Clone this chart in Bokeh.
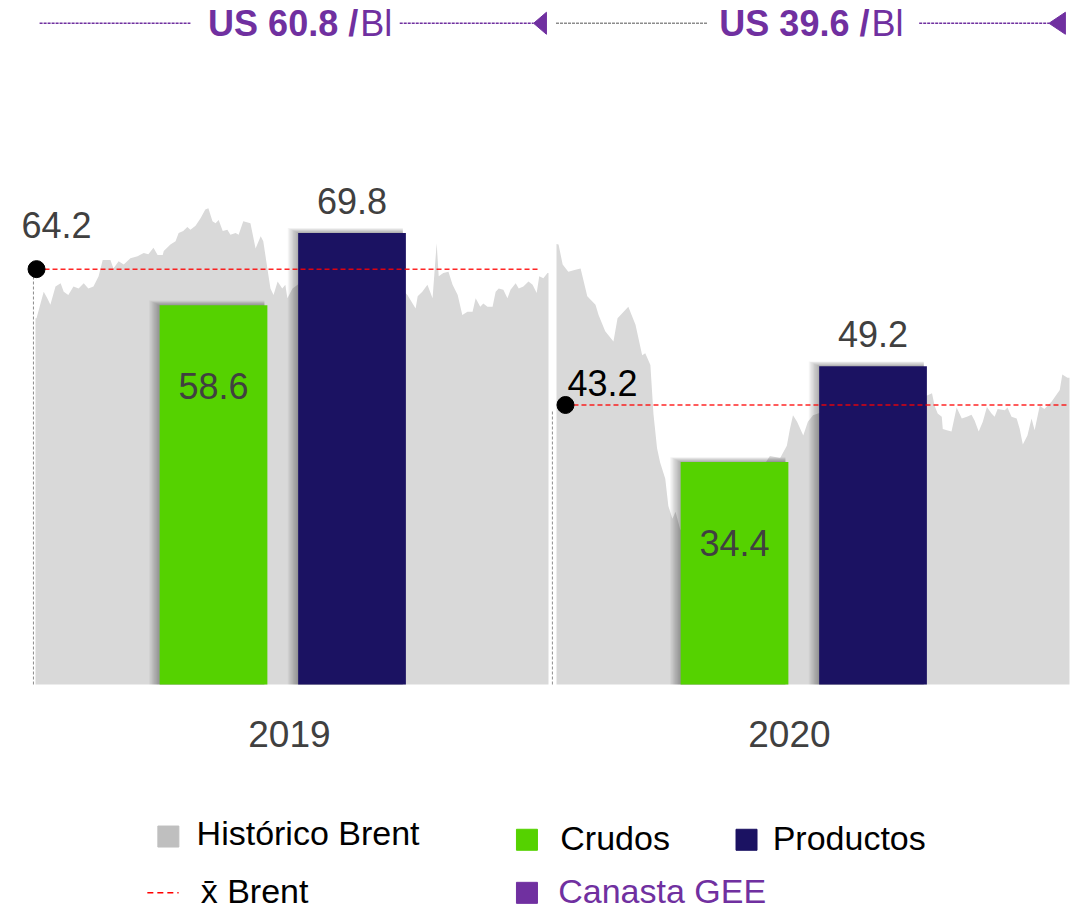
import numpy as np
from bokeh.plotting import figure
from bokeh.models import Range1d, ColumnDataSource
from bokeh.core.properties import value
from bokeh.embed import file_html
from bokeh.resources import INLINE

# ---------------- data ----------------
years = ["2019", "2020"]
crudos = [58.6, 34.4]
productos = [69.8, 49.2]
brent_mean = [64.2, 43.2]
canasta_gee = [60.8, 39.6]

# Historical Brent (USD/bbl); position = % of the year elapsed
brent_2019_pct = [0.0, 0.2, 1.6, 2.3, 2.9, 3.9, 4.9, 5.5, 6.4, 7.4, 8.4, 9.4, 10.3, 11.3, 12.3,
                  13.1, 14.6, 15.2, 16.2, 17.2, 18.5, 19.9, 21.1, 22.0, 23.0, 23.8, 24.8, 25.0,
                  26.3, 27.3, 27.9, 28.8, 29.6, 30.2, 31.2, 32.2, 33.1, 33.7, 34.5, 35.1, 35.7,
                  36.5, 37.4, 38.0, 39.0, 39.6, 40.5, 41.9, 42.9, 43.9, 44.4, 45.2, 45.8, 46.4,
                  47.2, 48.1, 48.7, 49.1, 50.1, 51.1, 52.2, 53.6, 55.2, 56.5, 58.1, 59.5, 61.0,
                  62.4, 63.7, 65.3, 66.9, 68.4, 70.2, 71.5, 72.5, 74.1, 74.5, 75.4, 76.4, 77.4,
                  78.2, 78.6, 79.5, 80.5, 81.3, 82.3, 83.2, 84.2, 85.2, 85.8, 86.7, 87.3, 88.1,
                  89.1, 89.7, 90.3, 91.2, 92.0, 92.6, 93.6, 94.2, 95.1, 96.1, 96.9, 97.7, 98.2,
                  99.0, 99.8, 100.0]
brent_2019_usd = [56.6, 56.6, 60.7, 59.7, 58.7, 61.5, 62.0, 60.7, 60.2, 61.5, 61.2, 62.0, 61.2,
                  61.5, 63.1, 65.6, 65.6, 64.3, 65.4, 64.9, 65.9, 66.2, 66.7, 66.5, 67.5, 66.4,
                  66.4, 67.0, 68.0, 68.5, 69.8, 70.1, 70.7, 70.3, 70.9, 72.1, 73.4, 73.6, 71.6,
                  71.3, 71.8, 70.1, 70.3, 69.5, 69.8, 69.5, 71.6, 71.3, 67.4, 69.3, 68.5, 64.3,
                  61.2, 60.2, 62.3, 61.2, 61.8, 59.7, 61.2, 61.8, 63.0, 64.0, 63.2, 64.5, 63.5,
                  62.5, 61.0, 58.5, 59.5, 58.8, 59.8, 59.0, 60.5, 61.0, 60.2, 58.1, 60.0, 60.7,
                  61.8, 59.7, 68.2, 63.1, 63.6, 63.8, 61.8, 60.2, 57.1, 57.6, 57.6, 59.7, 58.4,
                  58.9, 58.4, 58.4, 60.7, 61.2, 61.0, 59.7, 61.0, 62.0, 61.2, 61.5, 62.3, 61.8,
                  60.5, 63.1, 62.8, 63.6, 63.6]
brent_2020_pct = [0.0, 0.4, 1.2, 2.3, 3.7, 4.7, 6.0, 7.6, 8.2, 9.5, 11.1, 11.9, 14.0, 15.4, 16.7,
                  17.3, 18.3, 18.9, 19.6, 20.2, 21.2, 21.8, 22.6, 23.2, 24.1, 26.1, 28.0, 30.0,
                  31.9, 33.9, 35.8, 37.7, 39.7, 41.6, 43.6, 44.9, 45.5, 46.1, 46.9, 48.1, 49.0,
                  50.0, 51.4, 53.3, 55.3, 57.2, 59.1, 61.1, 63.0, 65.0, 66.9, 68.9, 70.8, 71.8,
                  73.2, 73.7, 74.3, 75.1, 75.3, 76.1, 77.0, 78.0, 79.0, 80.0, 80.9, 81.5, 82.3,
                  83.1, 83.9, 84.8, 85.4, 86.0, 87.4, 87.9, 88.7, 89.7, 90.3, 90.9, 91.8, 92.6,
                  93.2, 94.2, 95.1, 96.5, 98.1, 98.6, 99.6, 100.0]
brent_2020_usd = [68.1, 68.0, 64.9, 63.8, 64.1, 64.3, 60.0, 58.7, 57.1, 54.6, 53.0, 56.6, 58.4,
                  55.6, 50.9, 51.2, 49.4, 41.8, 36.5, 34.3, 31.8, 27.6, 25.6, 26.7, 24.0, 22.5,
                  21.0, 22.0, 24.5, 27.0, 29.5, 31.5, 33.0, 35.3, 35.0, 36.9, 39.5, 41.6, 40.6,
                  38.5, 40.6, 41.6, 42.0, 43.0, 43.5, 43.0, 44.0, 45.0, 44.5, 45.0, 45.5, 44.0,
                  44.5, 44.5, 45.0, 43.1, 41.9, 41.4, 39.5, 39.3, 39.1, 42.8, 41.1, 41.4, 41.7,
                  40.8, 39.1, 40.6, 42.9, 41.9, 41.4, 42.6, 42.4, 42.8, 41.4, 41.1, 39.5, 37.1,
                  38.5, 41.1, 39.3, 43.1, 42.6, 43.7, 45.5, 47.9, 47.4, 47.4]

# ---------------- layout ----------------
W, H = 1073, 912
PX_X, PX_Y = 5.13, 6.47          # pixels per data unit
X0_PX, Y0_PX = 35, 684           # canvas pixel of x=0 / y=0
YEAR_START = [0.0, 101.56]
CRUDOS_POS, PROD_POS, BAR_W = 34.7, 61.7, 21.0

GRAY_AREA = "#D9D9D9"
GREEN = "#55D200"
NAVY = "#1B1262"
PURPLE = "#7030A0"
TXT = "#404040"
FONT = value("Liberation Sans")


def dx(n):
    return n / PX_X


def dy(n):
    return n / PX_Y


p = figure(width=W, height=H, output_backend="svg", toolbar_location=None,
           x_range=Range1d(-X0_PX / PX_X, (W - X0_PX) / PX_X),
           y_range=Range1d(-(H - Y0_PX) / PX_Y, Y0_PX / PX_Y),
           x_axis_location=None, y_axis_location=None, min_border=0)
p.grid.visible = False
p.outline_line_color = None
p.background_fill_color = "white"

# historical Brent areas
for start, xs, ys in [(YEAR_START[0], brent_2019_pct, brent_2019_usd),
                      (YEAR_START[1], brent_2020_pct, brent_2020_usd)]:
    p.varea(x=np.array(xs) + start, y1=0, y2=ys, fill_color=GRAY_AREA)

# vertical thin dashed lines at year starts
p.segment(x0=[YEAR_START[0] - 0.4, YEAR_START[1] - 0.8], y0=[0, 0],
          x1=[YEAR_START[0] - 0.4, YEAR_START[1] - 0.8],
          y1=[brent_mean[0], brent_mean[1] - 1.0],
          line_color="#8C8C8C", line_width=1, line_dash="3 2")

# bars with soft shadow
centers = [YEAR_START[i] + CRUDOS_POS for i in range(2)] + [YEAR_START[i] + PROD_POS for i in range(2)]
tops = crudos + productos
for k in range(1, 9):
    p.quad(left=[c - BAR_W / 2 - dx(1.3 * k) for c in centers],
           right=[c + BAR_W / 2 - dx(3) for c in centers],
           top=[t + dy(0.6 * k) for t in tops], bottom=[0] * 4,
           fill_color="black", fill_alpha=0.045, line_color=None)
p.quad(left=[c - BAR_W / 2 for c in centers[:2]], right=[c + BAR_W / 2 for c in centers[:2]],
       top=crudos, bottom=0, fill_color=GREEN, line_color=None)
p.quad(left=[c - BAR_W / 2 for c in centers[2:]], right=[c + BAR_W / 2 for c in centers[2:]],
       top=productos, bottom=0, fill_color=NAVY, line_color=None)

# bar labels
p.text(x=centers[:2], y=crudos, text=[f"{v:.1f}" for v in crudos], y_offset=81,
       text_align="center", text_baseline="middle", text_font=FONT,
       text_font_size="36px", text_color=TXT)
p.text(x=centers[2:], y=productos, text=[f"{v:.1f}" for v in productos], y_offset=-32,
       text_align="center", text_baseline="middle", text_font=FONT,
       text_font_size="36px", text_color=TXT)

# mean Brent lines, dots and labels
dot_x = [YEAR_START[0] + 0.2, YEAR_START[1] + 1.75]
line_end = [YEAR_START[0] + 97.9, YEAR_START[1] + 100.0]
p.segment(x0=dot_x, y0=brent_mean, x1=line_end, y1=brent_mean,
          line_color="#FF0000", line_alpha=0.85, line_width=1.5, line_dash="5 3")
p.scatter(x=dot_x, y=brent_mean, size=17, fill_color="black", line_color="black")
mean_src = ColumnDataSource(dict(x=dot_x, y=brent_mean,
                                 t=[f"{v:.1f}" for v in brent_mean],
                                 xo=[20, 37], yo=[-44, -22], c=[TXT, "#000000"]))
p.text(x="x", y="y", text="t", x_offset="xo", y_offset="yo", text_color="c",
       source=mean_src, text_align="center", text_baseline="middle",
       text_font=FONT, text_font_size="36px")

# year labels
p.text(x=[YEAR_START[0] + 49.5, YEAR_START[1] + 45.4], y=[-7.6, -7.6], text=years,
       text_align="center", text_baseline="middle", text_font=FONT,
       text_font_size="37px", text_color=TXT)

# top annotations: Canasta GEE
y_top = 102.2
p.segment(x0=[YEAR_START[0] + 0.8, YEAR_START[1] - 0.1], y0=[y_top, y_top],
          x1=[YEAR_START[0] + 30.2, YEAR_START[1] + 29.4], y1=[y_top, y_top],
          line_color=[PURPLE, "#8C8C8C"], line_width=1.5, line_dash="3 1")
p.segment(x0=[YEAR_START[0] + 71.0, YEAR_START[1] + 70.7], y0=[y_top, y_top],
          x1=[YEAR_START[0] + 97.1, YEAR_START[1] + 96.0], y1=[y_top, y_top],
          line_color=PURPLE, line_width=1.5, line_dash="3 1")
tips = [YEAR_START[0] + 97.1, YEAR_START[1] + 96.0]
bases = [YEAR_START[0] + 99.6, YEAR_START[1] + 99.2]
p.patches(xs=[[t, b, b] for t, b in zip(tips, bases)],
          ys=[[y_top, y_top + dy(11), y_top - dy(11)] for _ in tips],
          fill_color=PURPLE, line_color=PURPLE)
ann_x = [YEAR_START[0] + 51.4, YEAR_START[1] + 49.5]
p.text(x=ann_x, y=[y_top] * 2, text=[f"US {v:.1f} /" for v in canasta_gee], x_offset=59,
       text_align="right", text_baseline="middle", text_font=FONT, text_font_style="bold",
       text_font_size="36px", text_color=PURPLE)
p.text(x=ann_x, y=[y_top] * 2, text=["Bl", "Bl"], x_offset=61,
       text_align="left", text_baseline="middle", text_font=FONT,
       text_font_size="36px", text_color=PURPLE)

# legend (manual)
leg_sq = ColumnDataSource(dict(x=[25.9, 95.8, 138.6, 95.8], y=[-23.5, -24.0, -24.0, -32.2],
                               c=["#BFBFBF", GREEN, NAVY, PURPLE]))
p.scatter(x="x", y="y", source=leg_sq, marker="square", size=21,
          fill_color="c", line_color="c")
leg_txt = ColumnDataSource(dict(x=[31.4, 102.3, 143.7, 32.2, 101.9],
                                y=[-22.9, -23.8, -23.8, -31.9, -31.9],
                                t=["Histórico Brent", "Crudos", "Productos",
                                   "x\u0304 Brent", "Canasta GEE"],
                                c=["#000000", "#000000", "#000000", "#000000", PURPLE]))
p.text(x="x", y="y", text="t", text_color="c", source=leg_txt, text_align="left",
       text_baseline="middle", text_font=FONT, text_font_size="34px")
p.segment(x0=[21.8], y0=[-32.2], x1=[27.9], y1=[-32.2], line_color="#FF0000",
          line_width=1.5, line_dash="6 4")

open("out.html", "w").write(file_html(p, INLINE))
